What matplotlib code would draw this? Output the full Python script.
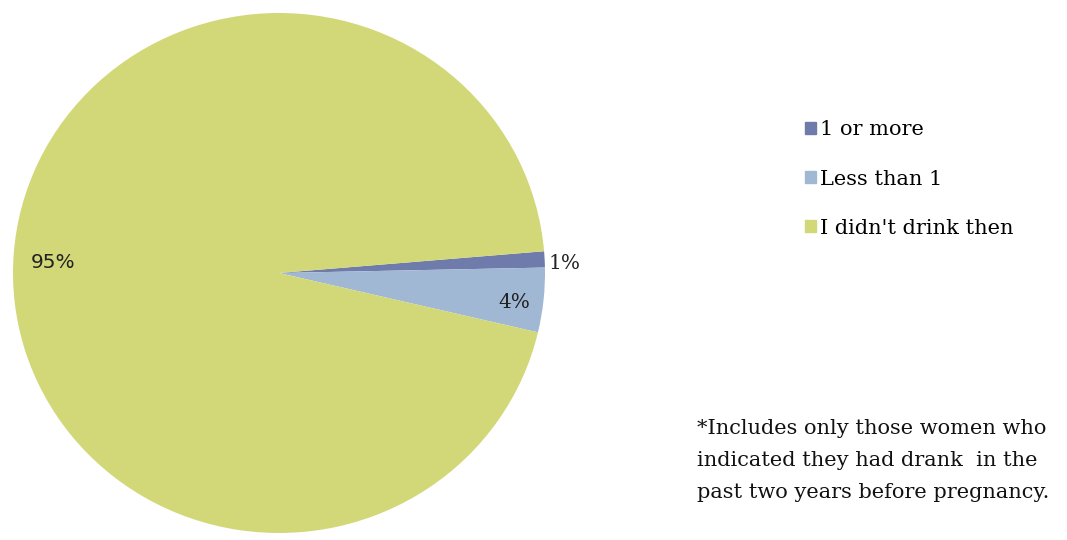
import matplotlib.pyplot as plt
import numpy as np

categories = ['1 or more', 'Less than 1', "I didn't drink then"]
values = [1, 4, 95]
labels = ['1%', '4%', '95%']
colors = ['#6f7bab', '#a0b8d4', '#d2d878']
label_r = [1.075, 0.89, 0.85]
label_font = ['DejaVu Serif', 'DejaVu Serif', 'DejaVu Sans']

note = ('*Includes only those women who\n'
        'indicated they had drank  in the\n'
        'past two years before pregnancy.')

plt.rcParams['font.family'] = ['DejaVu Serif']

W, H = 1067, 540
fig = plt.figure(figsize=(W / 100, H / 100), dpi=100)

# pie sits slightly wider than tall, like the original
cx, cy, rx, ry = 279, 273, 266, 260
ax = fig.add_axes([(cx - rx) / W, (H - cy - ry) / H, 2 * rx / W, 2 * ry / H])
wedges, _ = ax.pie(values, colors=colors, startangle=4.8, counterclock=False,
                   wedgeprops=dict(linewidth=0))
ax.set_aspect('auto')
ax.set_xlim(-1, 1)
ax.set_ylim(-1, 1)
ax.axis('off')

for w, lab, r, fam in zip(wedges, labels, label_r, label_font):
    ang = np.deg2rad((w.theta1 + w.theta2) / 2)
    ax.text(r * np.cos(ang), r * np.sin(ang) - 0.02, lab, ha='center',
            va='center', fontsize=14.5, color='#222222', family=fam)

handles = [plt.Rectangle((0, 0), 1, 1, color=c) for c in colors]
fig.legend(handles, categories, loc='upper left',
           bbox_to_anchor=(797 / W, 1 - 112 / H), frameon=False,
           fontsize=15, handlelength=0.5, handleheight=0.5,
           handletextpad=0.2, labelspacing=1.45, borderaxespad=0)

fig.text(697 / W, 1 - 419 / H, note, ha='left', va='top', fontsize=15,
         linespacing=1.85, color='#111111')

fig.savefig('out.png', dpi=100)
